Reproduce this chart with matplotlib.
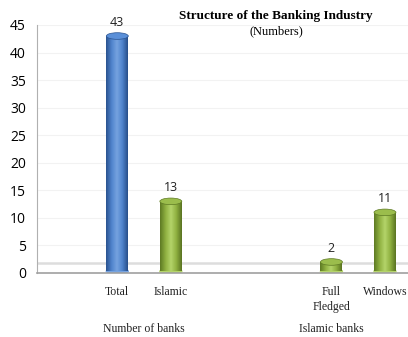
import numpy as np
import matplotlib
matplotlib.use("Agg")
import matplotlib.pyplot as plt
from matplotlib.patches import Ellipse, Rectangle
from matplotlib.colors import LinearSegmentedColormap

# --- data ---
categories = ["Total", "Islamic", "Full\nFledged", "Windows"]
values = [43, 13, 2, 11]
positions = [0, 1, 4, 5]
bar_kinds = ["blue", "green", "green", "green"]
groups = ["Number of banks", "Islamic banks"]
group_pos = [0.5, 4.0]
yticks = list(range(0, 50, 5))

# --- styles ---
shades = {
    "blue": LinearSegmentedColormap.from_list("b", ["#2a5390", "#4f83cc", "#76a3e0", "#4f83cc", "#284f8a"]),
    "green": LinearSegmentedColormap.from_list("g", ["#5e7a24", "#8fb040", "#b4d46a", "#8fb040", "#5a7422"]),
}
cap_colors = {"blue": "#5a8fd8", "green": "#9bbd4c"}

fig = plt.figure(figsize=(4.08, 3.37), dpi=100)
ax = fig.add_axes([37 / 408, (337 - 273) / 337, 1 - 37 / 408, (273 - 25) / 337])

ax.set_xlim(-1.5, 5.43)
ax.set_ylim(0, 45)
ax.set_yticks(yticks)
ax.set_xticks([])
ax.tick_params(axis="y", length=0, labelsize=10, pad=8)
for lab in ax.get_yticklabels():
    lab.set_fontfamily("Open Sans")

for y in yticks[1:]:
    ax.axhline(y, color="#f2f2f2", lw=0.8, zorder=0)
# floor edge
ax.axhline(1.8, color="#dddddd", lw=1.8, zorder=1)

for s in ["top", "right"]:
    ax.spines[s].set_visible(False)
ax.spines["left"].set_color("#b0b0b0")
ax.spines["bottom"].set_color("#a0a0a0")
ax.spines["bottom"].set_linewidth(1.2)

w = 0.41
grad = np.linspace(0, 1, 64).reshape(1, -1)
for x, v, k in zip(positions, values, bar_kinds):
    im = ax.imshow(grad, cmap=shades[k], extent=[x - w / 2, x + w / 2, 0.3, v],
                   aspect="auto", zorder=3)
    rect = Rectangle((x - w / 2, 0.3), w, v - 0.3, transform=ax.transData)
    im.set_clip_path(rect)
    ax.add_patch(Ellipse((x, 0.3), w, 0.9, color=shades[k](0.5), zorder=2))
    ax.add_patch(Ellipse((x, v), w, 1.2, facecolor=cap_colors[k],
                         edgecolor=shades[k](0.0), lw=0.5, zorder=4))
    ax.text(x, v + 1.3, str(v), ha="center", va="bottom", fontsize=9,
            family="Open Sans", color="#222222")

ax.set_aspect("auto")
ax.set_xlim(-1.5, 5.43)
ax.set_ylim(0, 45)

for x, c in zip(positions, categories):
    ax.text(x, -2.4, c, ha="center", va="top", fontsize=8.5,
            family="Liberation Serif", color="#222222", linespacing=1.35)
for x, g in zip(group_pos, groups):
    ax.text(x, -9.0, g, ha="center", va="top", fontsize=8.5,
            family="Liberation Serif", color="#222222")

fig.text(276 / 408, 1 - 16 / 337, "Structure of the Banking Industry", ha="center",
         va="center", fontsize=9.5, fontweight="bold", family="Liberation Serif")
fig.text(276 / 408, 1 - 31 / 337, "(Numbers)", ha="center", va="center",
         fontsize=9, family="Liberation Serif")

fig.savefig("out.png", dpi=100)
